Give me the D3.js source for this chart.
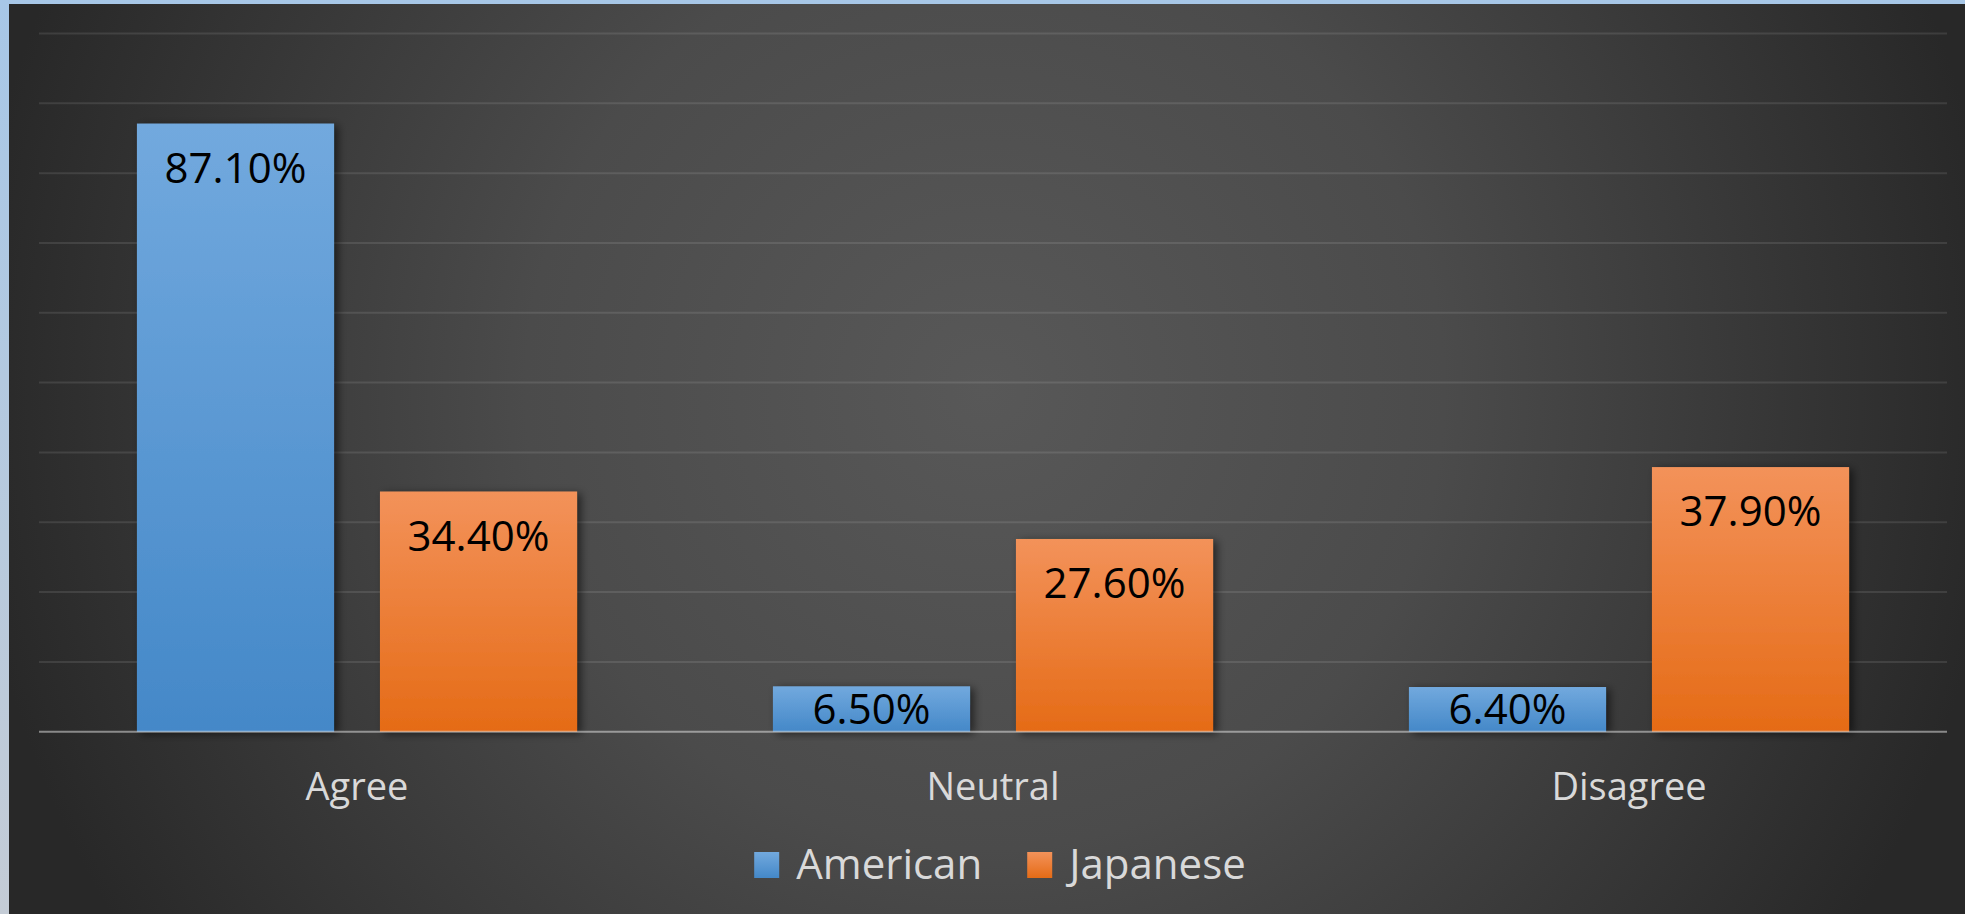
<!DOCTYPE html>
<html>
<head>
<meta charset="utf-8">
<script src="https://d3js.org/d3.v7.min.js"></script>
<style>
body {
  margin: 0px;
  overflow: hidden;
  background: #ffffff;
}
text {
  font-family: 'Open Sans', 'Noto Sans', sans-serif;
}
.cat-label {
  font-size: 38px;
  fill: #d9d9d9;
}
.value-label {
  font-size: 42px;
  fill: #000000;
}
.legend text {
  font-size: 42px;
  fill: #d9d9d9;
}
</style>
</head>
<body>
<svg width="1965" height="914"></svg>
<script>
// data
const categories = ['Agree', 'Neutral', 'Disagree'];
const seriesNames = ['American', 'Japanese'];
const american = [0.871, 0.065, 0.064];
const japanese = [0.344, 0.276, 0.379];
const yTicks = [0, 0.1, 0.2, 0.3, 0.4, 0.5, 0.6, 0.7, 0.8, 0.9, 1.0];

const seriesValues = [american, japanese];
const rows = categories.map((c, i) => ({
  category: c,
  values: seriesNames.map((s, j) => ({ series: s, value: seriesValues[j][i] }))
}));

const width = 1965, height = 914;
const svg = d3.select('svg');
const defs = svg.append('defs');

// frame border gradient (left strip)
const borderGrad = defs.append('linearGradient')
  .attr('id', 'border').attr('x1', 0).attr('y1', 0).attr('x2', 0).attr('y2', 1);
borderGrad.append('stop').attr('offset', '0%').attr('stop-color', '#a7c7e7');
borderGrad.append('stop').attr('offset', '100%').attr('stop-color', '#c4ccd6');

// chart background: radial, lighter in the middle
const bgGrad = defs.append('radialGradient')
  .attr('id', 'bg').attr('gradientUnits', 'userSpaceOnUse')
  .attr('cx', 985).attr('cy', 390).attr('r', 1020);
bgGrad.append('stop').attr('offset', '0%').attr('stop-color', '#585858');
bgGrad.append('stop').attr('offset', '45%').attr('stop-color', '#4b4b4b');
bgGrad.append('stop').attr('offset', '100%').attr('stop-color', '#282828');

const barColors = {
  American: ['#72a9de', '#4488c8'],
  Japanese: ['#f3925a', '#e56b16']
};
seriesNames.forEach(s => {
  const g = defs.append('linearGradient')
    .attr('id', 'grad-' + s).attr('x1', 0).attr('y1', 0).attr('x2', 0).attr('y2', 1);
  g.append('stop').attr('offset', '0%').attr('stop-color', barColors[s][0]);
  g.append('stop').attr('offset', '100%').attr('stop-color', barColors[s][1]);
});

const shadow = defs.append('filter').attr('id', 'shadow')
  .attr('x', '-20%').attr('y', '-20%').attr('width', '140%').attr('height', '140%');
shadow.append('feDropShadow')
  .attr('dx', 4).attr('dy', 2).attr('stdDeviation', 4)
  .attr('flood-color', '#000').attr('flood-opacity', 0.55);

svg.append('rect').attr('width', width).attr('height', height).attr('fill', 'url(#border)');
svg.append('rect')
  .attr('x', 9).attr('y', 4)
  .attr('width', width - 9).attr('height', height - 4)
  .attr('fill', 'url(#bg)');

// plot area
const plot = { left: 39, right: 1947, top: 33.5, bottom: 731.7 };

const y = d3.scaleLinear().domain([0, 1]).range([plot.bottom, plot.top]);
const x0 = d3.scaleBand().domain(categories).range([plot.left, plot.right]);
const x1 = d3.scaleBand().domain(seriesNames)
  .range([0, x0.bandwidth()])
  .paddingInner(0.189).paddingOuter(0.403);

// gridlines
svg.append('g')
  .selectAll('line')
  .data(yTicks.filter(d => d > 0))
  .enter().append('line')
    .attr('x1', plot.left).attr('x2', plot.right)
    .attr('y1', d => y(d)).attr('y2', d => y(d))
    .attr('stroke', '#ffffff').attr('stroke-opacity', 0.1)
    .attr('stroke-width', 2);

// bars
const groups = svg.append('g')
  .selectAll('g')
  .data(rows)
  .enter().append('g')
    .attr('transform', d => `translate(${x0(d.category)},0)`);

groups.selectAll('rect')
  .data(d => d.values)
  .enter().append('rect')
    .attr('x', d => x1(d.series))
    .attr('y', d => y(d.value))
    .attr('width', x1.bandwidth())
    .attr('height', d => y(0) - y(d.value))
    .attr('fill', d => `url(#grad-${d.series})`)
    .attr('filter', 'url(#shadow)');

// axis line
svg.append('line')
  .attr('x1', plot.left).attr('x2', plot.right)
  .attr('y1', y(0)).attr('y2', y(0))
  .attr('stroke', '#ffffff').attr('stroke-opacity', 0.45)
  .attr('stroke-width', 2);

// value labels: inside end, centered when the bar is too short
const capH = 42 * 0.714;
groups.selectAll('.value-label')
  .data(d => d.values)
  .enter().append('text')
    .attr('class', 'value-label')
    .attr('text-anchor', 'middle')
    .attr('x', d => x1(d.series) + x1.bandwidth() / 2)
    .attr('y', d => {
      const h = y(0) - y(d.value);
      if (h > 70) return y(d.value) + 59;
      return y(d.value) + h / 2 + capH / 2;
    })
    .text(d => (d.value * 100).toFixed(2) + '%');

// category labels
svg.append('g')
  .selectAll('text')
  .data(categories)
  .enter().append('text')
    .attr('class', 'cat-label')
    .attr('text-anchor', 'middle')
    .attr('x', d => x0(d) + x0.bandwidth() / 2)
    .attr('y', 800)
    .text(d => d);

// legend
const legend = svg.append('g').attr('class', 'legend');
const legendItems = legend.selectAll('g')
  .data(seriesNames)
  .enter().append('g');
legendItems.append('rect')
  .attr('width', 25).attr('height', 26)
  .attr('y', 852)
  .attr('fill', d => `url(#grad-${d})`);
legendItems.append('text')
  .attr('x', 42).attr('y', 879)
  .text(d => d);

// lay out legend items side by side, centred
let offset = 0;
const itemGap = 45;
const widths = [];
legendItems.each(function() {
  widths.push(this.getBBox().width);
});
const total = d3.sum(widths) + itemGap * (widths.length - 1);
offset = 1000 - total / 2;
legendItems.attr('transform', (d, i) => {
  const t = `translate(${offset},0)`;
  offset += widths[i] + itemGap;
  return t;
});
</script>
</body>
</html>
